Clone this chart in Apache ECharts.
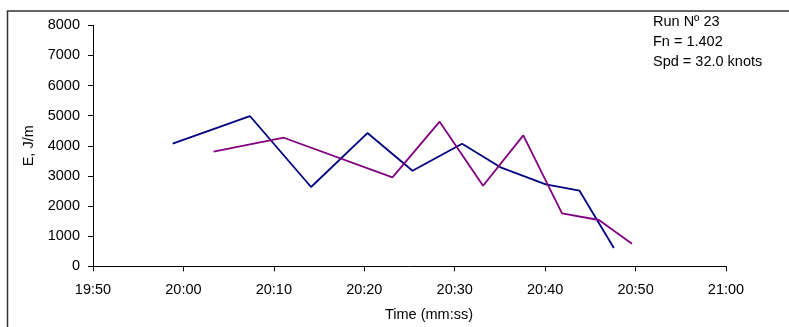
<!DOCTYPE html>
<html><head><meta charset="utf-8">
<script src="https://cdn.jsdelivr.net/npm/echarts@6/dist/echarts.min.js"></script>
<style>html,body{margin:0;padding:0;background:#fff}#c{width:789px;height:327px}</style>
</head><body><div id="c"></div>
<script>
// Series 1 (navy): time (hh:mm:ss) and E (J/m)
const timesA = ["19:58:49","20:07:21","20:14:07","20:20:21","20:25:20","20:30:49","20:35:09","20:40:04","20:43:48","20:47:36"];
const valuesA = [4073, 4988, 2632, 4424, 3173, 4069, 3273, 2722, 2510, 608];
// Series 2 (purple)
const timesB = ["20:03:20","20:11:06","20:23:07","20:28:20","20:33:08","20:37:35","20:41:52","20:45:57","20:49:36"];
const valuesB = [3804, 4268, 2954, 4800, 2675, 4348, 1759, 1537, 750];
const xTickLabels = ["19:50","20:00","20:10","20:20","20:30","20:40","20:50","21:00"];
const yTicks = [0,1000,2000,3000,4000,5000,6000,7000,8000];
const infoLines = ["Run Nº 23","Fn = 1.402","Spd = 32.0 knots"];

function toMin(s){const p=s.split(':').map(Number);return p[0]*60+p[1]+(p[2]||0)/60;}
const xMin = toMin(xTickLabels[0]), xMax = toMin(xTickLabels[xTickLabels.length-1]);
function fmt(v){const h=Math.floor(v/60),m=Math.round(v-h*60);return h+':'+String(m).padStart(2,'0');}

const font = 'Liberation Sans, Arial, sans-serif';
const fs = 14.5;
const chart = echarts.init(document.getElementById('c'));
chart.setOption({
  animation:false,
  backgroundColor:'#fff',
  grid:{left:93,right:63,top:25.3,bottom:60.7,containLabel:false},
  xAxis:{type:'value',min:xMin,max:xMax,interval:10,
    axisLine:{lineStyle:{color:'#000',width:1}},
    axisTick:{show:true,length:5,lineStyle:{color:'#000'}},
    splitLine:{show:false},
    axisLabel:{formatter:fmt,color:'#000',fontSize:fs,fontFamily:font,margin:16}},
  yAxis:{type:'value',min:yTicks[0],max:yTicks[yTicks.length-1],interval:1000,
    axisLine:{show:true,lineStyle:{color:'#000',width:1}},
    axisTick:{show:true,length:5,lineStyle:{color:'#000'}},
    splitLine:{show:false},
    name:'E, J/m',nameLocation:'middle',nameGap:48,nameRotate:90,
    nameTextStyle:{color:'#000',fontSize:fs,fontFamily:font},
    axisLabel:{formatter:v=>String(v),color:'#000',fontSize:fs,fontFamily:font,margin:13}},
  graphic:[
    {type:'rect',shape:{x:7.5,y:11,width:800,height:400},style:{fill:'none',stroke:'#333',lineWidth:1.5}},
    {type:'text',x:429,y:315,style:{text:'Time (mm:ss)',fill:'#000',font:fs+'px '+font,textAlign:'center',textVerticalAlign:'middle'}},
    {type:'text',x:653,y:12,style:{text:infoLines.join('\n'),fill:'#000',font:fs+'px '+font,lineHeight:20}}
  ],
  series:[
    {type:'line',data:timesA.map((t,i)=>[toMin(t),valuesA[i]]),symbol:'none',lineStyle:{color:'#000080',width:1.8},color:'#000080'},
    {type:'line',data:timesB.map((t,i)=>[toMin(t),valuesB[i]]),symbol:'none',lineStyle:{color:'#800080',width:1.8},color:'#800080'}
  ]
});
</script></body></html>
